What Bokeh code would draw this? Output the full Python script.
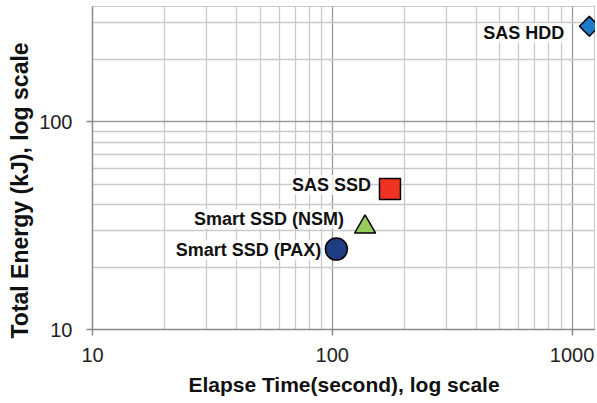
import numpy as np
from bokeh.plotting import figure
from bokeh.models import (ColumnDataSource, LabelSet, FixedTicker, Range1d,
                          PrintfTickFormatter, Title)
from bokeh.core.properties import value
from bokeh.embed import file_html
from bokeh.resources import INLINE

# Data
devices = ["SAS HDD", "SAS SSD", "Smart SSD (NSM)", "Smart SSD (PAX)"]
elapse_time = [1180, 174, 137, 104]      # seconds
total_energy = [289, 47.5, 31.2, 24.4]   # kJ
x_major = [10, 100, 1000]
y_major = [10, 100]

# styles
markers = ["square", "square", "triangle", "circle"]
colors = ["#1b7bc9", "#ee3322", "#98cc5c", "#1f3d82"]
sizes = [14, 21, 21, 22]
angles = [np.pi / 4, 0, 0, 0]
lab_dx = [-25, -19, -21, -15]
lab_dy = [-7, 4, 8, -1]

src = ColumnDataSource(dict(x=elapse_time, y=total_energy, name=devices,
                            marker=markers, color=colors, size=sizes,
                            angle=angles, dx=lab_dx, dy=lab_dy))

FONT = "Liberation Sans"

p = figure(width=595, height=403, x_axis_type="log", y_axis_type="log",
           x_range=Range1d(10, 1252), y_range=Range1d(10, 360),
           output_backend="svg", toolbar_location=None,
           min_border_left=92, min_border_right=0, min_border_top=6,
           min_border_bottom=74, background_fill_color="white",
           border_fill_color="white", outline_line_color="#c8c8c8")

x_minor = [m * d for d in (10, 100, 1000) for m in range(2, 10)]
y_minor = [m * d for d in (10, 100) for m in range(2, 10)]
p.xaxis.ticker = FixedTicker(ticks=x_major, minor_ticks=x_minor)
p.yaxis.ticker = FixedTicker(ticks=y_major, minor_ticks=y_minor)
p.xaxis.formatter = PrintfTickFormatter(format="%d")
p.yaxis.formatter = PrintfTickFormatter(format="%d")

for g in (p.xgrid, p.ygrid):
    g.grid_line_color = "#9a9a9a"
    g.grid_line_width = 1.3
    g.minor_grid_line_color = "#cacaca"
    g.minor_grid_line_width = 1.3

for ax in (p.xaxis, p.yaxis):
    ax.axis_line_color = "#8a8a8a"
    ax.axis_line_width = 1.5
    ax.major_tick_line_color = "#8a8a8a"
    ax.major_tick_line_width = 1.5
    ax.major_tick_out = 6
    ax.major_tick_in = 0
    ax.minor_tick_line_color = None
    ax.major_label_text_font = FONT
    ax.major_label_text_font_size = "20px"
    ax.major_label_text_color = "#222222"
    ax.axis_label_text_font = FONT
    ax.axis_label_text_font_style = "bold"
    ax.axis_label_text_color = "#111111"

p.xaxis.axis_label = "Elapse Time(second), log scale"
p.xaxis.axis_label_text_font_size = "21px"
p.xaxis.major_label_standoff = 12
p.xaxis.axis_label_standoff = 8
p.yaxis.major_label_standoff = 14

ytitle = Title(text="Total Energy (kJ), log scale", align="left",
               offset=-9, text_font=FONT, text_font_style="bold",
               text_font_size="23px", text_color="#111111", standoff=7)
p.add_layout(ytitle, "left")

labels = LabelSet(x="x", y="y", text="name", source=src,
                  x_offset="dx", y_offset="dy",
                  text_align="right", text_baseline="middle",
                  text_font=value(FONT), text_font_style="bold",
                  text_font_size="18px", text_color="#111111",
                  background_fill_color="white", background_fill_alpha=0.75)
p.add_layout(labels)

p.scatter(x="x", y="y", source=src, marker="marker", fill_color="color",
          size="size", angle="angle", line_color="black", line_width=1.5)

open("out.html", "w").write(file_html(p, INLINE))
